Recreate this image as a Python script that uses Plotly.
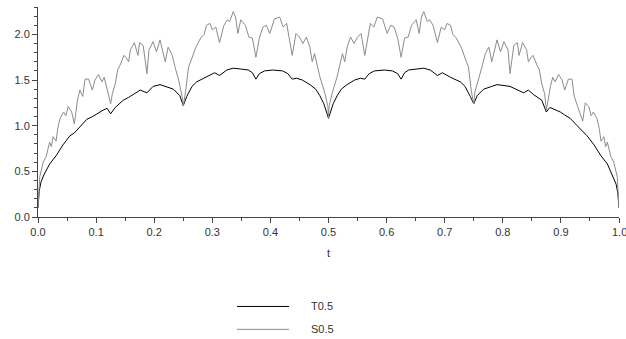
import plotly.graph_objects as go

# ---- data (left half, then right half) ----
t_T = [0.0, 0.002, 0.005, 0.01, 0.02, 0.031, 0.043, 0.055, 0.0625, 0.072, 0.084, 0.094,
       0.101, 0.112, 0.119, 0.125, 0.133, 0.147, 0.156, 0.164, 0.176, 0.1875, 0.198, 0.21,
       0.219, 0.233, 0.244, 0.25, 0.256, 0.265, 0.273, 0.29, 0.304, 0.3125, 0.325, 0.336,
       0.344, 0.35, 0.362, 0.369, 0.375, 0.381, 0.39, 0.404, 0.421, 0.43, 0.4375, 0.445,
       0.455, 0.468, 0.478, 0.485, 0.492, 0.5,
       0.508, 0.515, 0.522, 0.532, 0.545, 0.555, 0.5625, 0.57, 0.579, 0.596, 0.61, 0.619,
       0.625, 0.631, 0.638, 0.65, 0.656, 0.664, 0.675, 0.6875, 0.696, 0.71, 0.727, 0.735,
       0.744, 0.75, 0.756, 0.767, 0.781, 0.79, 0.8125, 0.824, 0.836, 0.844, 0.853, 0.867,
       0.875, 0.881, 0.888, 0.899, 0.906, 0.916, 0.928, 0.9375, 0.945, 0.957, 0.969, 0.98,
       0.99, 0.995, 0.998, 1.0]
T_vals = [0.10, 0.28, 0.38, 0.46, 0.58, 0.67, 0.79, 0.89, 0.92, 0.99, 1.07, 1.10,
          1.13, 1.17, 1.19, 1.13, 1.20, 1.28, 1.31, 1.34, 1.39, 1.36, 1.43, 1.45,
          1.43, 1.40, 1.33, 1.22, 1.32, 1.43, 1.48, 1.53, 1.58, 1.55, 1.61, 1.63,
          1.62, 1.62, 1.61, 1.58, 1.51, 1.57, 1.60, 1.61, 1.60, 1.57, 1.51, 1.52,
          1.50, 1.45, 1.40, 1.33, 1.24, 1.08,
          1.24, 1.33, 1.40, 1.45, 1.50, 1.52, 1.51, 1.57, 1.60, 1.61, 1.60, 1.57,
          1.51, 1.58, 1.61, 1.62, 1.62, 1.63, 1.61, 1.55, 1.58, 1.53, 1.48, 1.43,
          1.32, 1.24, 1.33, 1.40, 1.43, 1.45, 1.43, 1.40, 1.36, 1.39, 1.34, 1.28,
          1.15, 1.20, 1.18, 1.15, 1.12, 1.08, 1.00, 0.94, 0.89, 0.79, 0.67, 0.58,
          0.44, 0.36, 0.26, 0.10]

t_S = [0.0, 0.003, 0.009, 0.014, 0.02, 0.023, 0.026, 0.031, 0.034, 0.038, 0.044, 0.048,
       0.052, 0.058, 0.0625, 0.068, 0.072, 0.077, 0.081, 0.087, 0.0935, 0.098, 0.104, 0.11,
       0.114, 0.118, 0.125, 0.128, 0.133, 0.137, 0.141, 0.148, 0.151, 0.156, 0.159, 0.166,
       0.172, 0.175, 0.181, 0.1875, 0.191, 0.198, 0.204, 0.21, 0.219, 0.224, 0.23, 0.236,
       0.242, 0.248, 0.25, 0.254, 0.259, 0.265, 0.271, 0.28, 0.286, 0.29, 0.296, 0.3,
       0.306, 0.3125, 0.32, 0.326, 0.33, 0.336, 0.34, 0.344, 0.349, 0.357, 0.363, 0.369,
       0.375, 0.381, 0.387, 0.393, 0.399, 0.407, 0.416, 0.422, 0.428, 0.4375, 0.444, 0.45,
       0.456, 0.462, 0.468, 0.472, 0.476, 0.485, 0.494, 0.499, 0.5,
       0.501, 0.506, 0.515, 0.524, 0.528, 0.532, 0.538, 0.544, 0.55, 0.556, 0.5625, 0.572,
       0.578, 0.584, 0.593, 0.601, 0.607, 0.613, 0.619, 0.625, 0.631, 0.637, 0.643, 0.651,
       0.656, 0.66, 0.664, 0.67, 0.674, 0.68, 0.6875, 0.694, 0.7, 0.704, 0.71, 0.714,
       0.72, 0.729, 0.735, 0.741, 0.746, 0.75, 0.752, 0.758, 0.764, 0.77, 0.776, 0.781,
       0.79, 0.796, 0.802, 0.809, 0.8125, 0.819, 0.825, 0.828, 0.834, 0.841, 0.844, 0.849,
       0.852, 0.859, 0.863, 0.867, 0.872, 0.875, 0.882, 0.886, 0.89, 0.896, 0.902, 0.9065,
       0.913, 0.919, 0.923, 0.9375, 0.942, 0.948, 0.952, 0.956, 0.962, 0.966, 0.969, 0.974,
       0.977, 0.98, 0.986, 0.991, 0.997, 1.0]
S_vals = [0.10, 0.44, 0.60, 0.66, 0.82, 0.77, 0.88, 0.83, 0.97, 1.08, 1.15, 1.11,
          1.21, 1.15, 1.02, 1.28, 1.39, 1.32, 1.51, 1.51, 1.39, 1.50, 1.56, 1.48,
          1.53, 1.43, 1.24, 1.35, 1.46, 1.61, 1.66, 1.77, 1.75, 1.70, 1.83, 1.91,
          1.77, 1.91, 1.88, 1.57, 1.83, 1.92, 1.81, 1.94, 1.70, 1.86, 1.79, 1.64,
          1.50, 1.32, 1.22, 1.37, 1.64, 1.74, 1.85, 1.96, 2.00, 2.10, 2.12, 2.05,
          2.08, 1.91, 2.10, 2.16, 2.14, 2.25, 2.19, 2.01, 2.16, 2.10, 1.97, 1.96,
          1.75, 1.96, 2.08, 2.10, 2.01, 2.17, 2.19, 2.08, 2.12, 1.77, 2.01, 1.97,
          1.90, 1.97, 1.86, 1.70, 1.79, 1.54, 1.35, 1.21, 1.08,
          1.21, 1.35, 1.54, 1.79, 1.70, 1.86, 1.97, 1.90, 1.97, 2.01, 1.77, 2.12,
          2.08, 2.19, 2.17, 2.01, 2.10, 2.08, 1.96, 1.75, 1.96, 1.97, 2.10, 2.16,
          2.01, 2.19, 2.25, 2.14, 2.16, 2.10, 1.91, 2.08, 2.05, 2.12, 2.10, 2.00,
          1.96, 1.85, 1.74, 1.64, 1.37, 1.24, 1.37, 1.50, 1.64, 1.79, 1.86, 1.70,
          1.94, 1.81, 1.92, 1.83, 1.57, 1.88, 1.91, 1.77, 1.91, 1.83, 1.70, 1.75,
          1.77, 1.66, 1.61, 1.46, 1.35, 1.17, 1.43, 1.53, 1.48, 1.56, 1.50, 1.39,
          1.51, 1.51, 1.32, 1.05, 1.25, 1.21, 1.11, 1.15, 1.08, 0.97, 0.83, 0.88,
          0.77, 0.82, 0.66, 0.60, 0.44, 0.10]

x_ticks = [0.0, 0.1, 0.2, 0.3, 0.4, 0.5, 0.6, 0.7, 0.8, 0.9, 1.0]
x_tick_labels = ["0.0", "0.1", "0.2", "0.3", "0.4", "0.5", "0.6", "0.7", "0.8", "0.9", "1.0"]
y_ticks = [0.0, 0.5, 1.0, 1.5, 2.0]
legend_names = ["T0.5", "S0.5"]
legend_colors = ["#000000", "#8c8c8c"]

fig = go.Figure()
fig.add_trace(go.Scatter(x=t_T, y=T_vals, mode="lines", name=legend_names[0],
                         line=dict(color=legend_colors[0], width=1)))
fig.add_trace(go.Scatter(x=t_S, y=S_vals, mode="lines", name=legend_names[1],
                         line=dict(color=legend_colors[1], width=1)))

font = dict(family="Liberation Sans, Arial, sans-serif", size=11, color="#333333")

# last x label is drawn as an annotation so that it can run off the right edge (as in the reference)
shown_labels = x_tick_labels[:-1] + [""]

fig.update_layout(
    width=626, height=339,
    margin=dict(l=38, r=7, t=7, b=122),
    paper_bgcolor="white", plot_bgcolor="white",
    showlegend=False,
    font=font,
    xaxis=dict(range=[0, 1], tickvals=x_ticks, ticktext=shown_labels,
               ticks="outside", ticklen=5, tickcolor="#444", showgrid=False,
               zeroline=False, showline=True, linecolor="#444", linewidth=1,
               minor=dict(dtick=0.05, ticks="outside", ticklen=3, tickcolor="#444", showgrid=False),
               title=dict(text="t", font=font, standoff=12)),
    yaxis=dict(range=[0, 2.3], tickvals=y_ticks, tickformat=".1f",
               ticks="outside", ticklen=5, tickcolor="#444", showgrid=False,
               zeroline=False, showline=True, linecolor="#444", linewidth=1,
               minor=dict(tick0=0, dtick=0.1, ticks="outside", ticklen=3, tickcolor="#444", showgrid=False)),
)

fig.add_annotation(xref="x", yref="paper", x=x_ticks[-1], y=0, yshift=-15, text=x_tick_labels[-1],
                   showarrow=False, xanchor="center", yanchor="middle", font=font)

# manual legend below the chart
leg_y = [-0.426, -0.535]
for name, color, yy in zip(legend_names, legend_colors, leg_y):
    fig.add_shape(type="line", xref="paper", yref="paper", x0=0.3425, x1=0.432, y0=yy, y1=yy,
                  line=dict(color=color, width=1))
    fig.add_annotation(xref="paper", yref="paper", x=0.466, y=yy, text=name, showarrow=False,
                       xanchor="left", yanchor="middle", font=font)

fig.write_html("out.html", config={"displayModeBar": False},
               post_script="document.body.style.margin='0';document.body.style.overflow='hidden';")
